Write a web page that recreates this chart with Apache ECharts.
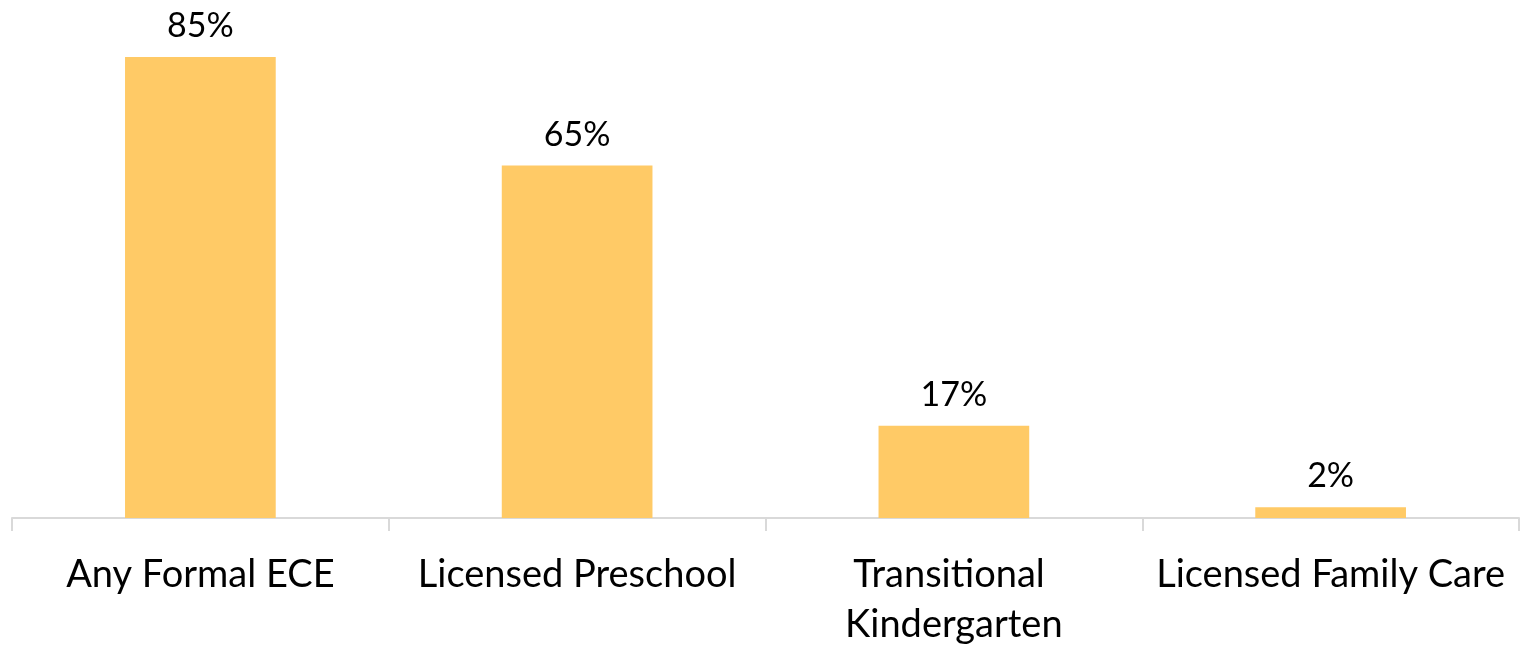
<!DOCTYPE html>
<html>
<head>
<meta charset="utf-8">
<script src="https://cdn.jsdelivr.net/npm/echarts@6/dist/echarts.min.js"></script>
<style>
  html, body { margin: 0; padding: 0; background: #ffffff; }
  #chart { width: 1522px; height: 650px; }
</style>
</head>
<body>
<div id="chart"></div>
<script>
// Share of children enrolled, by type of early care and education
const categories = ['Any Formal ECE', 'Licensed Preschool', 'Transitional Kindergarten', 'Licensed Family Care'];
const shares = [85, 65, 17, 2];

const FONT = 'Lato, "Liberation Sans", sans-serif';

const chart = echarts.init(document.getElementById('chart'), null, { renderer: 'canvas' });
chart.setOption({
  animation: false,
  backgroundColor: '#ffffff',
  grid: { left: 12, right: 3, top: 30, bottom: 128, containLabel: false },
  xAxis: {
    type: 'category',
    data: categories,
    axisLine: { show: true, lineStyle: { color: '#d9d9d9', width: 2 } },
    axisTick: { show: true, length: 13, lineStyle: { color: '#d9d9d9', width: 2 } },
    axisLabel: {
      interval: 0,
      margin: 32,
      color: '#000000',
      fontFamily: FONT,
      fontSize: 38,
      lineHeight: 50,
      width: 376,
      overflow: 'break'
    }
  },
  yAxis: {
    type: 'value',
    min: 0,
    max: 90,
    show: false,
    splitLine: { show: false }
  },
  series: [{
    type: 'bar',
    data: shares,
    barWidth: '40%',
    itemStyle: { color: '#FFCA66' },
    label: {
      show: true,
      position: 'top',
      distance: 14,
      color: '#000000',
      fontFamily: FONT,
      fontSize: 34,
      formatter: p => p.value + '%'
    }
  }]
});
</script>
</body>
</html>
